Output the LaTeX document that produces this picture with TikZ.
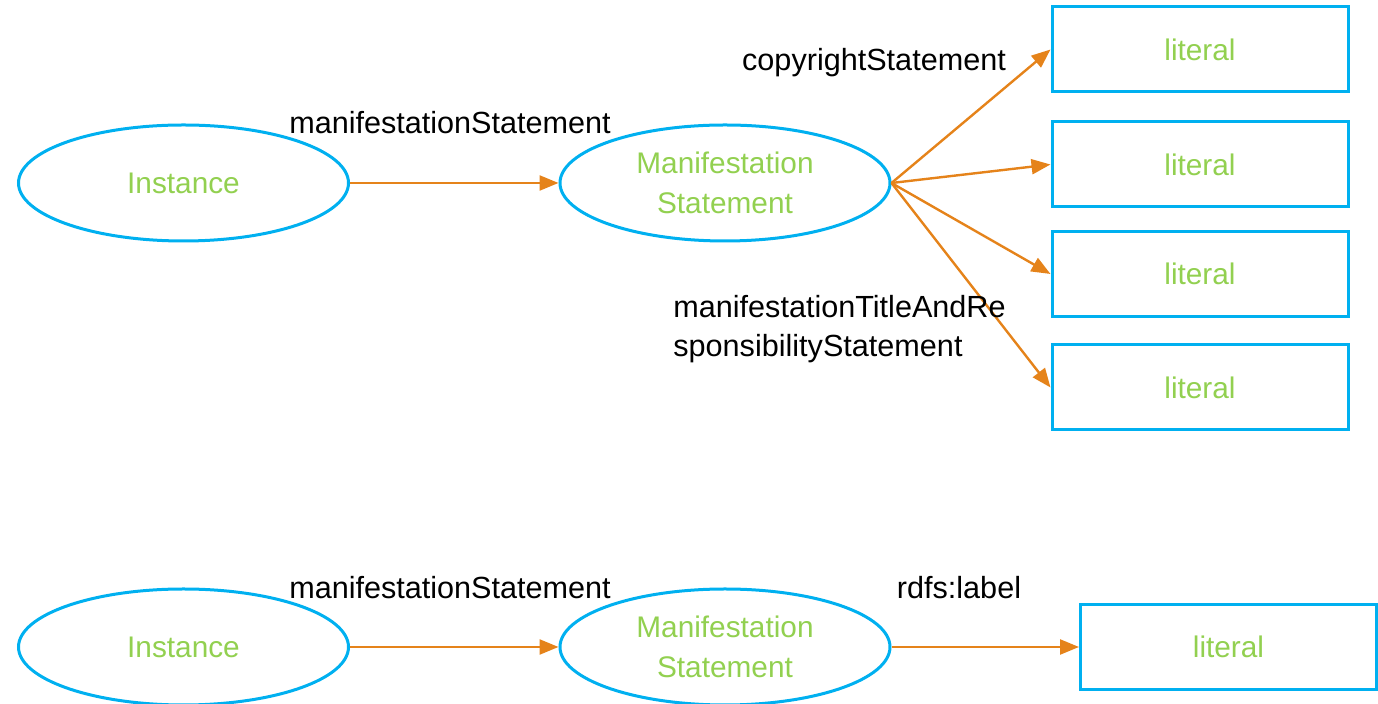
\documentclass[tikz,border=0pt]{standalone}
\usepackage{fontspec}
\setmainfont{Liberation Sans}
\usetikzlibrary{shapes.geometric,arrows.meta}
\definecolor{cblue}{HTML}{00B0F0}
\definecolor{cgreen}{HTML}{92D050}
\definecolor{corange}{HTML}{E5831A}
\begin{document}
\begin{tikzpicture}[x=0.5pt,y=-0.5pt,
  ell/.style={ellipse,draw=cblue,line width=1.5pt,minimum width=165pt,minimum height=58pt,inner sep=0pt,text=cgreen,font=\fontsize{14.9}{20}\selectfont,align=center},
  lit/.style={rectangle,draw=cblue,line width=1.5pt,minimum width=148pt,minimum height=42.5pt,inner sep=0pt,text=cgreen,font=\fontsize{14.9}{20}\selectfont},
  rel/.style={draw=corange,line width=1.2pt,-{Triangle[length=9.5pt,width=7.5pt]}},
  lbl/.style={font=\fontsize{15.3}{20}\selectfont,inner sep=0pt,text=black}]
\useasboundingbox (0,0) rectangle (1378,704);
% top row
\node[ell] (i1) at (183.5,183) {Instance};
\node[ell] (m1) at (725,183) {Manifestation\\Statement};
\node[lit] (l1) at (1200,49.5) {literal};
\node[lit] (l2) at (1200,164.5) {literal};
\node[lit] (l3) at (1200,274) {literal};
\node[lit] (l4) at (1200,387.5) {literal};
\draw[rel] (i1.east) -- (m1.west);
\draw[rel] (m1.east) -- (l1.west);
\draw[rel] (m1.east) -- (l2.west);
\draw[rel] (m1.east) -- (l3.west);
\draw[rel] (m1.east) -- (l4.west);
\node[lbl] (t1) at (450,123) {manifestationStatement};
\node[lbl] (t2) at (874,63) {copyrightStatement};
\node[lbl,anchor=north west,align=left,font=\fontsize{15.3}{19.5}\selectfont] (t3) at (673,295) {manifestationTitleAndRe\\sponsibilityStatement};
% bottom row
\node[ell] (i2) at (183.5,647) {Instance};
\node[ell] (m2) at (725,647) {Manifestation\\Statement};
\node[lit] (l5) at (1228.5,647) {literal};
\draw[rel] (i2.east) -- (m2.west);
\draw[rel] (m2.east) -- (l5.west);
\node[lbl] (t4) at (450,588) {manifestationStatement};
\node[lbl] (t5) at (959,588) {rdfs:label};
\end{tikzpicture}
\end{document}
